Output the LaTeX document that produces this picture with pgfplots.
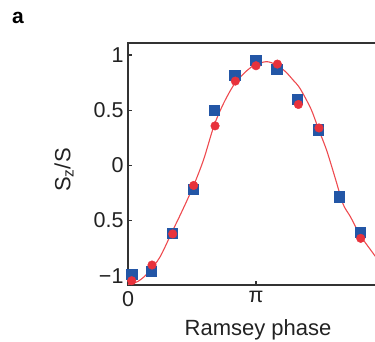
\documentclass[border=0pt]{standalone}
\usepackage{pgfplots}
\pgfplotsset{compat=1.18}
\usepackage{fontspec}
\setmainfont{Liberation Sans}
\definecolor{sqblue}{HTML}{2356A6}
\definecolor{dotred}{HTML}{E8323C}
\definecolor{fitred}{HTML}{EE4A4F}
\definecolor{txt}{HTML}{222222}
\begin{document}
\begin{tikzpicture}[x=1pt,y=1pt]
\begin{axis}[
  at={(128pt,-285pt)}, anchor=south west,
  scale only axis, width=256pt, height=242pt,
  xmin=0, xmax=2, ymin=-1.084, ymax=1.109,
  clip=false,
  axis line style={line width=1.3pt, color=black!80},
  tick style={line width=1.1pt, color=black!80},
  major tick length=4pt,
  tick pos=left, tick align=inside,
  xtick={0,1}, xticklabels={0,π},
  ytick={-1,-0.5,0,0.5,1}, yticklabels={−1,0.5,0,0.5,1},
  /pgf/number format/assume math mode=true,
  tick label style={font=\fontsize{21.5}{25}\selectfont, text=txt},
  yticklabel style={xshift=-1pt},
  xticklabel style={yshift=-3pt},
  xlabel={Ramsey phase},
  ylabel={S\textsubscript{z}/S},
  label style={font=\fontsize{22}{26}\selectfont, text=txt},
  xlabel style={at={(axis description cs:0.508,-0.207)}, anchor=base},
  ylabel style={at={(axis description cs:-0.25,0.475)}, anchor=center},
]
\addplot[only marks, mark=square*, mark size=5.2pt, color=sqblue] coordinates {
(0.029,-0.985) (0.18,-0.96) (0.344,-0.615) (0.51,-0.215) (0.674,0.5)
(0.833,0.818) (0.997,0.955) (1.161,0.873) (1.323,0.6) (1.487,0.324)
(1.651,-0.282) (1.8125,-0.606)
};
\addplot[smooth, color=fitred, line width=1.1pt] coordinates {
(0.0,-1.08) (0.08,-1.05) (0.16,-0.97) (0.25,-0.83) (0.341,-0.61)
(0.42,-0.42) (0.51,-0.19) (0.59,0.05) (0.672,0.36) (0.75,0.57)
(0.836,0.745) (0.93,0.86) (0.992,0.91) (1.083,0.94) (1.16,0.91)
(1.23,0.85) (1.29,0.773) (1.344,0.697) (1.43,0.51) (1.487,0.333)
(1.552,0.136) (1.62,-0.12) (1.68,-0.35) (1.74,-0.47) (1.8125,-0.63)
(1.917,-0.8) (2.0,-0.93)
};
\addplot[only marks, mark=*, mark size=4.3pt, color=dotred] coordinates {
(0.029,-1.045) (0.1875,-0.903) (0.349,-0.621) (0.513,-0.182) (0.68,0.358)
(0.8385,0.764) (1.0,0.903) (1.167,0.918) (1.331,0.552) (1.492,0.339)
(1.818,-0.661)
};
\draw[line width=1.3pt, color=black!80] (rel axis cs:0,1) -- (rel axis cs:1,1);
\end{axis}
\node[anchor=base west, inner sep=0pt, font=\fontsize{21}{24}\selectfont\bfseries] at (12pt,-23pt) {a};
\pgfresetboundingbox
\useasboundingbox (0pt,0pt) rectangle (375pt,-341pt);
\end{tikzpicture}
\end{document}
